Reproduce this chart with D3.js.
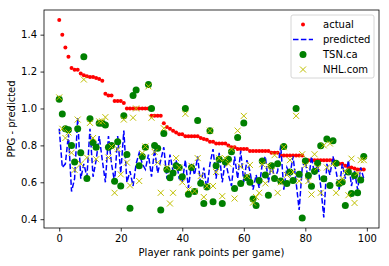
<!DOCTYPE html>
<html>
<head>
<meta charset="utf-8">
<script src="https://cdn.jsdelivr.net/npm/d3@7.9.0/dist/d3.min.js"></script>
<style>
  body { margin: 0; background: #fff; }
  svg { display: block; font-family: "DejaVu Sans", sans-serif; }
</style>
</head>
<body>
<svg id="chart" width="389" height="266"></svg>
<script>
// values, one per ranked player (0..99)
const actual = [
  1.48, 1.40, 1.33, 1.28, 1.22, 1.21, 1.21, 1.19, 1.18, 1.175,
  1.17, 1.17, 1.165, 1.16, 1.15, 1.08, 1.07, 1.07, 1.04, 1.04,
  1.04, 1.03, 1.0, 1.0, 1.0, 1.0, 1.0, 1.0, 1.0, 1.0,
  0.96, 0.96, 0.96, 0.96, 0.92, 0.90, 0.89, 0.88, 0.87, 0.86,
  0.86, 0.85, 0.85, 0.85, 0.85, 0.85, 0.84, 0.835, 0.83, 0.82,
  0.82, 0.81, 0.81, 0.81, 0.81, 0.80, 0.79, 0.79, 0.78, 0.78,
  0.78, 0.78, 0.77, 0.77, 0.77, 0.77, 0.77, 0.77, 0.77, 0.76,
  0.76, 0.76, 0.745, 0.745, 0.745, 0.745, 0.745, 0.745, 0.745, 0.745,
  0.72, 0.72, 0.72, 0.72, 0.72, 0.72, 0.72, 0.72, 0.72, 0.72,
  0.70, 0.70, 0.70, 0.69, 0.68, 0.68, 0.675, 0.67, 0.67, 0.67
];
const predicted = [
  0.89, 0.68, 0.70, 0.86, 0.55, 0.62, 0.95, 0.62, 0.70, 0.63,
  0.89, 0.63, 0.72, 0.85, 0.72, 0.60, 0.85, 0.70, 0.60, 0.85,
  0.65, 0.88, 0.60, 0.66, 0.58, 0.70, 0.76, 0.70, 0.67, 0.75,
  0.63, 0.78, 0.65, 0.72, 0.79, 0.62, 0.75, 0.66, 0.72, 0.62,
  0.60, 0.72, 0.57, 0.70, 0.64, 0.74, 0.58, 0.68, 0.56, 0.70,
  0.78, 0.62, 0.76, 0.60, 0.72, 0.64, 0.58, 0.74, 0.62, 0.77,
  0.60, 0.72, 0.66, 0.56, 0.64, 0.57, 0.70, 0.74, 0.60, 0.70,
  0.62, 0.66, 0.80, 0.56, 0.68, 0.64, 0.74, 0.60, 0.45, 0.68,
  0.72, 0.60, 0.74, 0.64, 0.70, 0.58, 0.41, 0.70, 0.64, 0.74,
  0.66, 0.56, 0.70, 0.62, 0.72, 0.58, 0.66, 0.56, 0.68, 0.62
];
const tsn = [
  1.05, 0.97, 0.89, 0.885, 0.80, 0.71, 0.89, 0.76, 1.28, 0.62,
  0.945, 0.815, 0.79, 0.92, 0.92, 0.91, 0.79, 0.80, 0.605, 0.82,
  0.58, 0.96, 0.75, 0.46, 1.07, 1.10, 0.69, 0.74, 0.79, 1.13,
  1.0, 0.80, 0.785, 0.45, 0.865, 0.67, 0.625, 0.65, 0.69, 0.68,
  0.63, 1.0, 0.535, 0.68, 0.55, 0.935, 0.595, 0.485, 0.575, 0.88,
  0.495, 0.69, 0.725, 0.485, 0.71, 0.725, 0.765, 0.567, 0.843, 0.594,
  0.922, 0.625, 0.60, 0.51, 0.474, 0.61, 0.716, 0.639, 0.53, 0.689,
  0.621, 0.70, 0.607, 0.794, 0.594, 0.656, 0.61, 1.0, 0.643, 0.406,
  0.716, 0.637, 0.579, 0.66, 0.703, 0.798, 0.619, 0.834, 0.583, 0.825,
  0.703, 0.594, 0.601, 0.474, 0.656, 0.539, 0.637, 0.543, 0.612, 0.74
];
const nhl = [
  1.06, 0.89, 0.84, 0.87, 0.76, 0.667, 0.94, 0.70, 1.157, 0.734,
  0.922, 0.84, 0.725, 0.93, 0.93, 0.953, 0.734, 0.794, 0.543, 0.78,
  0.643, 0.94, 0.707, 0.583, 0.95, 1.0, 0.607, 0.758, 0.794, 1.12,
  0.95, 0.765, 0.707, 0.543, 0.893, 0.68, 0.485, 0.543, 0.731, 0.68,
  0.60, 0.971, 0.561, 0.689, 0.552, 0.731, 0.634, 0.52, 0.579, 0.88,
  0.58, 0.656, 0.73, 0.525, 0.73, 0.70, 0.78, 0.512, 0.88, 0.685,
  0.96, 0.634, 0.694, 0.49, 0.52, 0.543, 0.698, 0.594, 0.69, 0.66,
  0.747, 0.543, 0.60, 0.79, 0.64, 0.72, 0.656, 0.96, 0.607, 0.752,
  0.692, 0.607, 0.534, 0.752, 0.68, 0.543, 0.80, 0.68, 0.81, 0.70,
  0.543, 0.60, 0.62, 0.66, 0.53, 0.728, 0.488, 0.65, 0.72, 0.72
];
const xTicks = [0, 20, 40, 60, 80, 100];
const yTicks = [0.4, 0.6, 0.8, 1.0, 1.2, 1.4];
const legendItems = ["actual", "predicted", "TSN.ca", "NHL.com"];

const svg = d3.select("#chart");
const margin = { top: 10, right: 10, bottom: 38, left: 44 };
const width = 389 - margin.left - margin.right;
const height = 266 - margin.top - margin.bottom;

const g = svg.append("g").attr("transform", `translate(${margin.left},${margin.top})`);

// matplotlib style 5% padding on both axes
const n = actual.length;
const xPad = (n - 1) * 0.05;
const x = d3.scaleLinear().domain([-xPad, n - 1 + xPad]).range([0, width]);
const all = actual.concat(predicted, tsn, nhl);
const yMin = d3.min(all), yMax = d3.max(all);
const yPad = (yMax - yMin) * 0.05;
const y = d3.scaleLinear().domain([yMin - yPad, yMax + yPad]).range([height, 0]);

// actual: small red dots
g.append("g").selectAll("circle").data(actual).join("circle")
  .attr("cx", (d, i) => x(i))
  .attr("cy", d => y(d))
  .attr("r", 2)
  .attr("fill", "#ff0000");

// predicted: blue dashed line
const line = d3.line().x((d, i) => x(i)).y(d => y(d));
g.append("path")
  .datum(predicted)
  .attr("d", line)
  .attr("fill", "none")
  .attr("stroke", "#0000ff")
  .attr("stroke-width", 1.5)
  .attr("stroke-dasharray", "5.5,2.4");

// TSN.ca: green circles
g.append("g").selectAll("circle").data(tsn).join("circle")
  .attr("cx", (d, i) => x(i))
  .attr("cy", d => y(d))
  .attr("r", 3.5)
  .attr("fill", "#008000");

// NHL.com: yellow x markers
const xMark = "M-3,-3L3,3M-3,3L3,-3";
g.append("g").selectAll("path").data(nhl).join("path")
  .attr("transform", (d, i) => `translate(${x(i)},${y(d)})`)
  .attr("d", xMark)
  .attr("stroke", "#bfbf00")
  .attr("stroke-width", 1)
  .attr("fill", "none");

// axes
const xAxis = d3.axisBottom(x).tickValues(xTicks).tickSize(3.5).tickPadding(3.5).tickFormat(d3.format("d"));
const yAxis = d3.axisLeft(y).tickValues(yTicks).tickSize(3.5).tickPadding(3.5).tickFormat(d3.format(".1f"));

const gx = g.append("g").attr("transform", `translate(0,${height})`).call(xAxis);
const gy = g.append("g").call(yAxis);
[gx, gy].forEach(a => {
  a.select(".domain").remove();
  a.selectAll(".tick line").attr("stroke", "#000").attr("stroke-width", 0.8);
  a.selectAll(".tick text").attr("fill", "#000").style("font-size", "10px")
    .style("font-family", "DejaVu Sans, sans-serif");
});

// frame
g.append("rect")
  .attr("width", width).attr("height", height)
  .attr("fill", "none").attr("stroke", "#000").attr("stroke-width", 0.8);

// axis labels
svg.append("text")
  .attr("x", margin.left + width / 2)
  .attr("y", 256)
  .attr("text-anchor", "middle")
  .style("font-size", "10px")
  .text("Player rank points per game)");

svg.append("text")
  .attr("transform", `translate(15,${margin.top + height / 2}) rotate(-90)`)
  .attr("text-anchor", "middle")
  .style("font-size", "10px")
  .text("PPG - predicted");

// legend
const lg = svg.append("g").attr("transform", "translate(291,15)");
lg.append("rect")
  .attr("width", 83).attr("height", 63)
  .attr("rx", 2)
  .attr("fill", "#fff").attr("fill-opacity", 0.8)
  .attr("stroke", "#cccccc").attr("stroke-width", 0.8);

legendItems.forEach((name, i) => {
  const row = lg.append("g").attr("transform", `translate(12,${9.5 + i * 15})`);
  if (i === 0) {
    row.append("circle").attr("r", 2).attr("fill", "#ff0000");
  } else if (i === 1) {
    row.append("line").attr("x1", -10).attr("x2", 10)
      .attr("stroke", "#0000ff").attr("stroke-width", 1.5)
      .attr("stroke-dasharray", "5.5,2.4");
  } else if (i === 2) {
    row.append("circle").attr("r", 3.5).attr("fill", "#008000");
  } else {
    row.append("path").attr("d", xMark).attr("stroke", "#bfbf00")
      .attr("stroke-width", 1).attr("fill", "none");
  }
  row.append("text")
    .attr("x", 20).attr("y", 3.5)
    .style("font-size", "10px")
    .text(name);
});
</script>
</body>
</html>
